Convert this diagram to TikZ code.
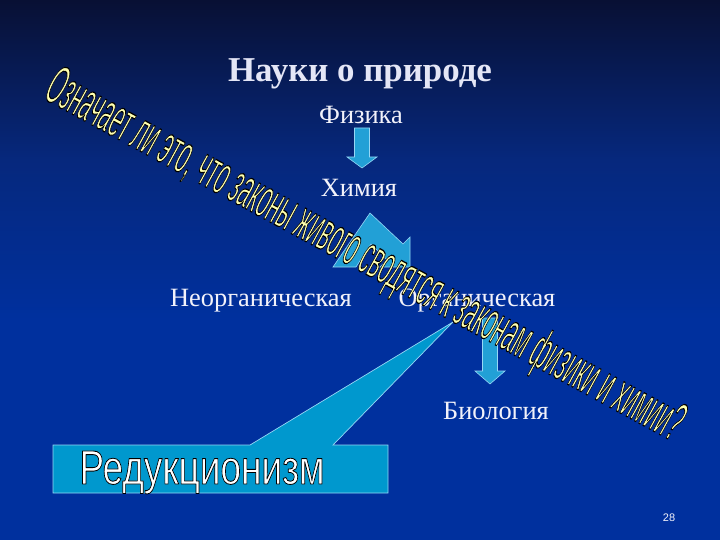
\documentclass[tikz,border=0pt]{standalone}
\usepackage{fontspec}
\setmainfont{Liberation Serif}
\newfontfamily\arialf{Liberation Sans}
\usetikzlibrary{calc}
\definecolor{bgtop}{RGB}{8,16,52}
\definecolor{bgmid}{RGB}{6,40,125}
\definecolor{bgbot}{RGB}{0,48,158}
\definecolor{arrowc}{RGB}{34,160,214}
\definecolor{arrowedge}{RGB}{150,215,245}
\definecolor{callc}{RGB}{0,152,206}
\definecolor{wordc}{RGB}{255,255,175}
\definecolor{titlec}{RGB}{228,230,246}
\definecolor{txtc}{RGB}{242,242,250}
\newcommand\outlinedtext[2]{% #1 stroke width, #2 text
  \special{pdf:literal direct 2 Tr 0 0 0 RG #1 w 1 j}#2\special{pdf:literal direct 0 Tr}}
\newcommand\blockdown[4]{% top, tip, half shaft, head length
  \draw[barrow] ($(#1)+(-#3,0)$) -- ($(#1|-#2)+(-#3,-#4)$) -- ($(#1|-#2)+(-2*#3,-#4)$)
    -- (#1|-#2) -- ($(#1|-#2)+(2*#3,-#4)$) -- ($(#1|-#2)+(#3,-#4)$) -- ($(#1)+(#3,0)$) -- cycle;}
\begin{document}
\begin{tikzpicture}[x=1bp,y=-1bp,
  barrow/.style={fill=arrowc,draw=arrowedge,line width=0.6pt,line join=miter},
  label/.style={text=txtc,font=\fontsize{26.5}{30}\selectfont,anchor=base,inner sep=0pt},
  callbox/.style={fill=callc,draw=arrowedge,line width=0.7pt}]
\useasboundingbox (0,0) rectangle (720,540);
\shade[top color=bgtop,bottom color=bgmid] (0,0) rectangle (720,160);
\shade[top color=bgmid,bottom color=bgbot] (0,160) rectangle (720,320);
\fill[bgbot] (0,320) rectangle (720,540);

\node[text=titlec,font=\bfseries\fontsize{35}{40}\selectfont,anchor=base,inner sep=0pt] (title) at (360,82) {Науки о природе};
\node[label] (fiz) at (361,124) {Физика};
\node[label] (him) at (359,197) {Химия};
\node[label] (neorg) at (261,306) {Неорганическая};
\node[label] (org) at (477,306) {Органическая};
\node[label] (bio) at (496,419) {Биология};

% arrows
\coordinate (a1top) at (362,128);
\coordinate (a1tip) at (362,168);
\blockdown{a1top}{a1tip}{7.5}{11}
\coordinate (a2top) at (490,318);
\coordinate (a2tip) at (490,384);
\blockdown{a2top}{a2tip}{7.5}{13}

% split arrow under Химия
\draw[barrow] (333,267) -- (370,213) -- (403,244) -- (410,237) -- (410,267)
  -- (380,267) -- (387,260) -- (371,244) -- (356,267) -- cycle;

% callout
\coordinate (ctip) at (453,322);
\draw[callbox] (53,445) -- (250,445) -- (ctip) -- (333,445) -- (388,445)
  -- (388,493) -- (53,493) -- cycle;
\node[anchor=base,inner sep=0pt] (red) at (202,484)
  {\color{white}\resizebox{245bp}{33bp}{\arialf\fontsize{46}{50}\selectfont\outlinedtext{0.8}{Редукционизм}}};

% page number
\node[text=txtc,font=\arialf\fontsize{11}{13}\selectfont] (pn) at (669,518) {28};

% WordArt question
\node[rotate=-28.6,inner sep=0pt] (q) at (364,257)
  {\color{wordc}\resizebox{718bp}{40bp}{\arialf\fontsize{40}{44}\selectfont\outlinedtext{0.9}{Означает ли это, что законы живого сводятся к законам физики и химии?}}};
\end{tikzpicture}
\end{document}
